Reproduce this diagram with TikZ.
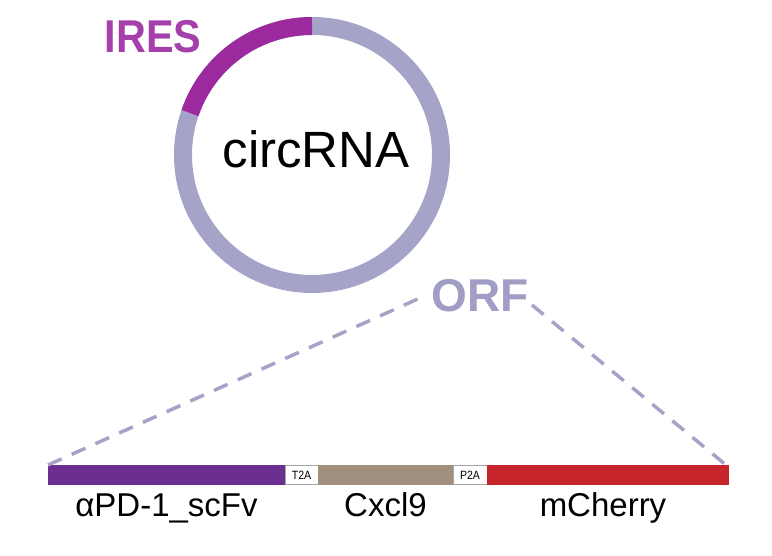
\documentclass[tikz,border=0pt]{standalone}
\usepackage{graphicx}
\usepackage{fontspec}
\setmainfont{Liberation Sans}
\usetikzlibrary{positioning}

\definecolor{ringgray}{HTML}{A5A3C7}
\definecolor{iresarc}{HTML}{9C2A9E}
\definecolor{iresfont}{HTML}{A53FAB}
\definecolor{orffont}{HTML}{A09EC5}
\definecolor{scfvfill}{HTML}{6B2D90}
\definecolor{cxclfill}{HTML}{A2907F}
\definecolor{cherryfill}{HTML}{C7252C}

\begin{document}
\begin{tikzpicture}[
        x=1pt, y=1pt,
        segment/.style={rectangle, draw=none, minimum height=20pt, inner sep=0pt, outer sep=0pt},
        linker/.style={rectangle, draw=gray!70, fill=white, line width=0.6pt, minimum height=19pt, inner sep=0pt, outer sep=0pt, font=\fontsize{12}{13}\selectfont},
        gene/.style={anchor=base, font=\fontsize{33}{38}\selectfont},
        bigtitle/.style={anchor=base, font=\bfseries\fontsize{46}{50}\selectfont},
        zoomline/.style={ringgray, line width=3.5pt, dash pattern=on 15pt off 11pt}
    ]
    \useasboundingbox (0,0) rectangle (772,556);

    % Ring
    \coordinate (ringc) at (312,401);
    \draw[ringgray, line width=18pt] (ringc) circle[radius=129pt];
    \draw[iresarc, line width=18pt] ([shift={(90:129pt)}]ringc) arc[start angle=90, end angle=161, radius=129pt];
    \node[anchor=base, font=\fontsize{51}{60}\selectfont] (circ) at (316,388) {circRNA};
    \node[bigtitle, text=iresfont] (ires) at (153,503) {\scalebox{0.9}[1]{IRES}};
    \node[bigtitle, text=orffont] (orf) at (480,244) {ORF};

    % Bar segments
    \node[segment, fill=scfvfill, minimum width=237pt] (scfv) at (166.5,81) {};
    \node[linker, minimum width=33pt, right=0pt of scfv] (t2a) {\scalebox{0.88}[1]{T2A}};
    \node[segment, fill=cxclfill, minimum width=135pt, right=0pt of t2a] (cxcl) {};
    \node[linker, minimum width=34pt, right=0pt of cxcl] (p2a) {\scalebox{0.88}[1]{P2A}};
    \node[segment, fill=cherryfill, minimum width=242pt, right=0pt of p2a] (cherry) {};

    % Labels
    \coordinate (lbl) at (0,39);
    \node[gene] (scfvlbl) at (scfv |- lbl) {αPD-1\_scFv};
    \node[gene] (cxcllbl) at (cxcl |- lbl) {Cxcl9};
    \node[gene] (cherrylbl) at ([xshift=-5pt]cherry |- lbl) {mCherry};

    % Dashed lines
    \coordinate (orfL) at (420,258);
    \coordinate (orfR) at (532,251);
    \draw[zoomline] (scfv.north west) -- (orfL);
    \draw[zoomline] (orfR) -- ([xshift=-3pt]cherry.north east);

\end{tikzpicture}
\end{document}
